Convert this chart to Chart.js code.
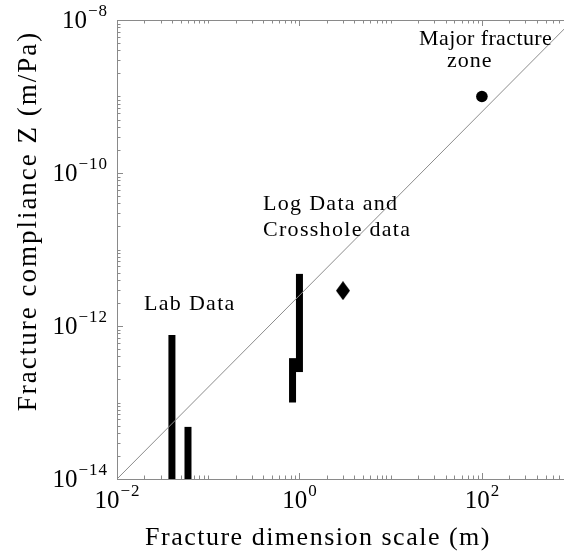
<!DOCTYPE html>
<html>
<head>
<meta charset="utf-8">
<script src="https://cdn.jsdelivr.net/npm/chart.js@4/dist/chart.umd.min.js"></script>
<style>
  html, body { margin: 0; padding: 0; background: #fff; overflow: hidden; }
</style>
</head>
<body>
<canvas id="fractureChart" width="564" height="553"></canvas>
<script>
// Fracture compliance vs. fracture dimension scale (log-log)
const barX    = [0.04, 0.06, 0.84, 1.0];
const barLow  = [1e-14, 1e-14, 1e-13, 2.5e-13];
const barHigh = [7.6e-13, 4.8e-14, 3.8e-13, 4.8e-12];

const diamondX = [3];
const diamondZ = [2.9e-12];

const circleX = [100];
const circleZ = [1e-9];

// Z ~ L^1.2 reference line
const lineX = [0.01, 1000];
const lineZ = [1e-14, 1e-8];

const xLabelExps = [-2, 0, 2];
const yLabelExps = [-14, -12, -10, -8];

const annotations = [
    { lines: ['Major fracture'], x: 419, y: 45, ls: 0.4 },
    { lines: ['zone'], x: 447, y: 67, ls: 1 },
    { lines: ['Log Data and', 'Crosshole data'], x: 263, y: 210, ls: 1.3 },
    { lines: ['Lab Data'], x: 144, y: 310, ls: 1.3 }
];

const serif = '"Liberation Serif", "Times New Roman", serif';
const axisGray = '#8a8a8a';
const textColor = '#000';

// tall diamond marker
const diamond = document.createElement('canvas');
diamond.width = 14;
diamond.height = 19;
(function () {
    const d = diamond.getContext('2d');
    d.fillStyle = '#000';
    d.beginPath();
    d.moveTo(7, 0);
    d.lineTo(14, 9.5);
    d.lineTo(7, 19);
    d.lineTo(0, 9.5);
    d.closePath();
    d.fill();
})();

const datasets = [{
    data: lineX.map((x, i) => ({ x: x, y: lineZ[i] })),
    showLine: true,
    borderColor: '#8c8c8c',
    borderWidth: 1,
    pointRadius: 0
}];

barX.forEach((x, i) => {
    datasets.push({
        data: [{ x: x, y: barLow[i] }, { x: x, y: barHigh[i] }],
        showLine: true,
        borderColor: '#000',
        borderWidth: 7,
        borderCapStyle: 'butt',
        pointRadius: 0
    });
});

datasets.push({
    data: diamondX.map((x, i) => ({ x: x, y: diamondZ[i] })),
    pointStyle: diamond,
    pointRadius: 9
});

datasets.push({
    data: circleX.map((x, i) => ({ x: x, y: circleZ[i] })),
    pointStyle: 'circle',
    pointRadius: 5.8,
    backgroundColor: '#000',
    borderColor: '#000',
    borderWidth: 0
});

function drawPow(ctx, exp, x, y, align) {
    const base = '10';
    const sup = exp < 0 ? '\u2212' + Math.abs(exp) : String(exp);
    ctx.font = '25px ' + serif;
    const wb = ctx.measureText(base).width;
    ctx.font = '17px ' + serif;
    ctx.letterSpacing = '1px';
    const ws = ctx.measureText(sup).width;
    const total = wb + ws;
    let left = x;
    if (align === 'center') left = x - total / 2;
    if (align === 'right') left = x - total;
    ctx.textAlign = 'left';
    ctx.fillText(sup, left + wb + 1, y - 12);
    ctx.letterSpacing = '0px';
    ctx.font = '25px ' + serif;
    ctx.fillText(base, left, y);
}

const framePlugin = {
    id: 'frame',
    beforeDatasetsDraw(chart) {
        const { ctx, chartArea: a, scales } = chart;
        ctx.save();
        ctx.strokeStyle = axisGray;
        ctx.lineWidth = 1;
        ctx.beginPath();
        ctx.moveTo(a.left + 0.5, a.top + 0.5);
        ctx.lineTo(a.right + 1, a.top + 0.5);
        ctx.moveTo(a.left + 0.5, a.top);
        ctx.lineTo(a.left + 0.5, a.bottom + 0.5);
        ctx.lineTo(a.right + 1, a.bottom + 0.5);
        ctx.stroke();

        // x ticks, bottom and top, pointing inward
        ctx.beginPath();
        for (let d = -2; d <= 2; d++) {
            for (let m = 1; m <= 9; m++) {
                const v = m * Math.pow(10, d);
                if (v > scales.x.max) break;
                const px = Math.round(scales.x.getPixelForValue(v)) + 0.5;
                const len = (m === 1 && xLabelExps.includes(d)) ? 6 : 3.5;
                ctx.moveTo(px, a.bottom);
                ctx.lineTo(px, a.bottom - len);
                ctx.moveTo(px, a.top);
                ctx.lineTo(px, a.top + len);
            }
        }
        // y ticks on the left
        for (let d = -14; d <= -8; d++) {
            for (let m = 1; m <= 9; m++) {
                const v = m * Math.pow(10, d);
                if (v > scales.y.max * 1.0001) break;
                const py = Math.round(scales.y.getPixelForValue(v)) + 0.5;
                const len = (m === 1 && yLabelExps.includes(d)) ? 6 : 3.5;
                ctx.moveTo(a.left, py);
                ctx.lineTo(a.left + len, py);
            }
        }
        ctx.stroke();
        ctx.restore();
    },
    afterDraw(chart) {
        const { ctx, chartArea: a, scales } = chart;
        ctx.save();
        ctx.fillStyle = textColor;
        ctx.textBaseline = 'alphabetic';

        xLabelExps.forEach(e => {
            drawPow(ctx, e, scales.x.getPixelForValue(Math.pow(10, e)), a.bottom + 29, 'center');
        });
        yLabelExps.forEach(e => {
            drawPow(ctx, e, a.left - 10, scales.y.getPixelForValue(Math.pow(10, e)) + 8, 'right');
        });

        // axis titles
        ctx.font = '26px ' + serif;
        ctx.letterSpacing = '1.5px';
        ctx.textAlign = 'center';
        ctx.fillText('Fracture dimension scale (m)', 318, 545);

        ctx.save();
        ctx.font = '27px ' + serif;
        ctx.letterSpacing = '2px';
        ctx.translate(36, 221);
        ctx.rotate(-Math.PI / 2);
        ctx.fillText('Fracture compliance Z (m/Pa)', 0, 0);
        ctx.restore();

        // annotations
        ctx.font = '22px ' + serif;
        ctx.textAlign = 'left';
        annotations.forEach(t => {
            ctx.letterSpacing = t.ls + 'px';
            t.lines.forEach((line, i) => ctx.fillText(line, t.x, t.y + i * 26));
        });
        ctx.letterSpacing = '0px';
        ctx.restore();
    }
};

const fractureChart = new Chart(document.getElementById('fractureChart').getContext('2d'), {
    type: 'scatter',
    data: { datasets: datasets },
    options: {
        responsive: false,
        animation: false,
        devicePixelRatio: 1,
        layout: { autoPadding: false, padding: { top: 20, right: 0, left: 0, bottom: 0 } },
        plugins: {
            legend: { display: false },
            tooltip: { enabled: false }
        },
        scales: {
            x: {
                type: 'logarithmic',
                bounds: 'data',
                min: 0.01,
                max: Math.pow(10, 2.9),
                ticks: { display: false },
                grid: { display: false },
                border: { display: false },
                afterFit: s => { s.height = 74; s.paddingLeft = 0; s.paddingRight = 0; }
            },
            y: {
                type: 'logarithmic',
                bounds: 'data',
                min: 1e-14,
                max: 1e-8,
                ticks: { display: false },
                grid: { display: false },
                border: { display: false },
                afterFit: s => { s.width = 117; s.paddingTop = 0; s.paddingBottom = 0; }
            }
        }
    },
    plugins: [framePlugin]
});
</script>
</body>
</html>
